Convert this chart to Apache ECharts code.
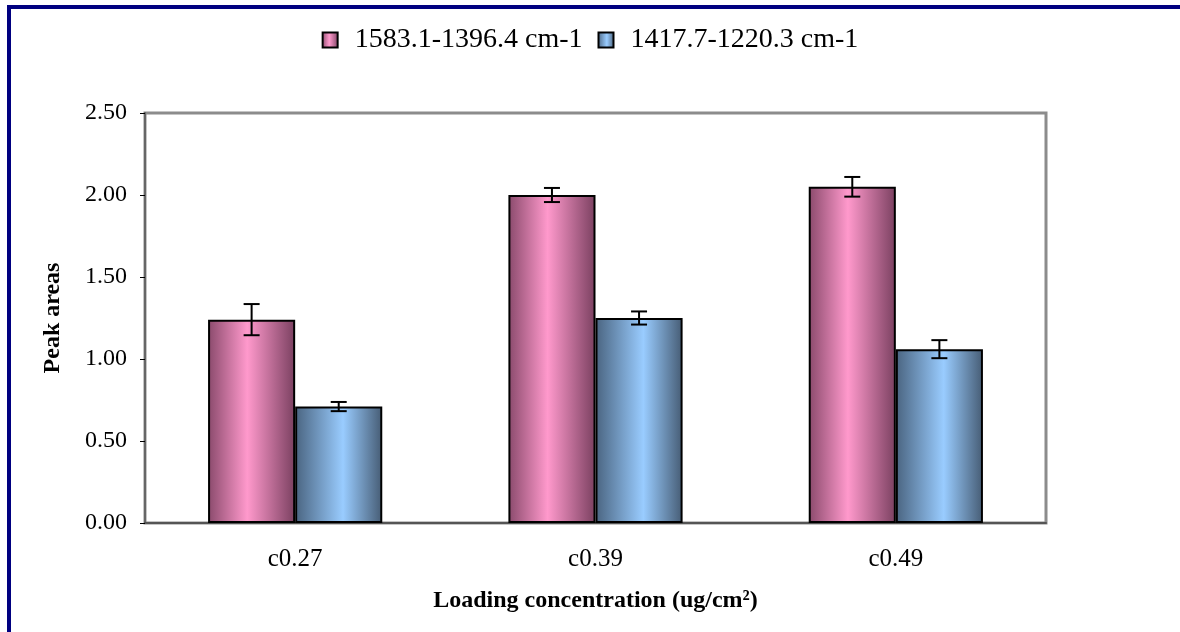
<!DOCTYPE html>
<html>
<head>
<meta charset="utf-8">
<script src="https://cdn.jsdelivr.net/npm/echarts@6/dist/echarts.min.js"></script>
<style>
  html, body { margin: 0; padding: 0; background: #fff; }
  #chart { width: 1180px; height: 632px; }
</style>
</head>
<body>
<div id="chart"></div>
<script>
// data
const categories = ['c0.27', 'c0.39', 'c0.49'];
const seriesNames = ['1583.1-1396.4 cm-1', '1417.7-1220.3 cm-1'];
const peakHigh = [1.24, 2.00, 2.05];
const peakLow = [0.71, 1.25, 1.06];
const errHigh = [0.095, 0.043, 0.06];
const errLow = [0.028, 0.04, 0.055];
const yMin = 0, yMax = 2.5, yStep = 0.5;

const FONT = '"Liberation Serif", "Times New Roman", serif';
const CAT_GAP = 0.42;

// excel-like shaded fill
const shade = (dark, light, darkR, mid) => new echarts.graphic.LinearGradient(0, 0, 1, 0, [
    { offset: 0, color: dark },
    { offset: mid, color: light },
    { offset: 1, color: darkR }
]);

const errorBars = (values, errs, side) => ({
    type: 'custom',
    data: values.map((v, i) => [i, v, errs[i]]),
    z: 10,
    silent: true,
    renderItem(params, api) {
        const i = api.value(0);
        const band = api.size([1, 0])[0];
        const barW = band * (1 - CAT_GAP) / 2;
        const x = api.coord([i, 0])[0] + side * barW / 2;
        const top = api.coord([i, api.value(1) + api.value(2)])[1];
        const bot = api.coord([i, api.value(1) - api.value(2)])[1];
        const cap = 8;
        const style = { stroke: '#000', lineWidth: 2 };
        return {
            type: 'group',
            children: [
                { type: 'line', shape: { x1: x, y1: top, x2: x, y2: bot }, style },
                { type: 'line', shape: { x1: x - cap, y1: top, x2: x + cap, y2: top }, style },
                { type: 'line', shape: { x1: x - cap, y1: bot, x2: x + cap, y2: bot }, style }
            ]
        };
    }
});

const chart = echarts.init(document.getElementById('chart'));

chart.setOption({
    animation: false,
    graphic: [{
        type: 'rect',
        shape: { x: 9, y: 7, width: 1400, height: 800 },
        style: { fill: 'none', stroke: '#000080', lineWidth: 4 },
        silent: true
    }],
    legend: {
        data: seriesNames,
        top: 21,
        left: 'center',
        icon: 'rect',
        itemWidth: 15,
        itemHeight: 15,
        itemGap: 15,
        textStyle: { fontFamily: FONT, fontSize: 28, color: '#000', padding: [0, 0, 0, 12] }
    },
    grid: {
        left: 145,
        right: 134,
        top: 113,
        bottom: 109,
        show: true,
        borderColor: '#8c8c8c',
        borderWidth: 3
    },
    xAxis: {
        type: 'category',
        data: categories,
        name: 'Loading concentration (ug/cm²)',
        nameLocation: 'middle',
        nameGap: 66,
        nameTextStyle: { fontFamily: FONT, fontSize: 24, fontWeight: 'bold', color: '#000' },
        axisLine: { lineStyle: { color: '#555', width: 2 } },
        axisTick: { length: 6, lineStyle: { color: '#000', width: 1 } },
        axisLabel: { fontFamily: FONT, fontSize: 25, color: '#000', margin: 24 }
    },
    yAxis: {
        type: 'value',
        min: yMin,
        max: yMax,
        interval: yStep,
        name: 'Peak areas',
        nameLocation: 'middle',
        nameRotate: 90,
        nameGap: 80,
        nameTextStyle: { fontFamily: FONT, fontSize: 24, fontWeight: 'bold', color: '#000' },
        splitLine: { show: false },
        axisLine: { show: true, lineStyle: { color: '#666', width: 2 } },
        axisTick: { show: true, length: 5, lineStyle: { color: '#000', width: 1 } },
        axisLabel: {
            fontFamily: FONT, fontSize: 24, color: '#000', margin: 18,
            formatter: v => v.toFixed(2)
        }
    },
    series: [
        {
            name: seriesNames[0],
            type: 'bar',
            data: peakHigh,
            barGap: '0%',
            barCategoryGap: (CAT_GAP * 100) + '%',
            itemStyle: {
                color: shade('#8a4a6c', '#ff99cc', '#7a4060', 0.45),
                borderColor: '#000',
                borderWidth: 2
            }
        },
        {
            name: seriesNames[1],
            type: 'bar',
            data: peakLow,
            barGap: '0%',
            barCategoryGap: (CAT_GAP * 100) + '%',
            itemStyle: {
                color: shade('#4a6480', '#99ccff', '#465c74', 0.55),
                borderColor: '#000',
                borderWidth: 2
            }
        },
        errorBars(peakHigh, errHigh, -1),
        errorBars(peakLow, errLow, 1)
    ]
});
</script>
</body>
</html>
